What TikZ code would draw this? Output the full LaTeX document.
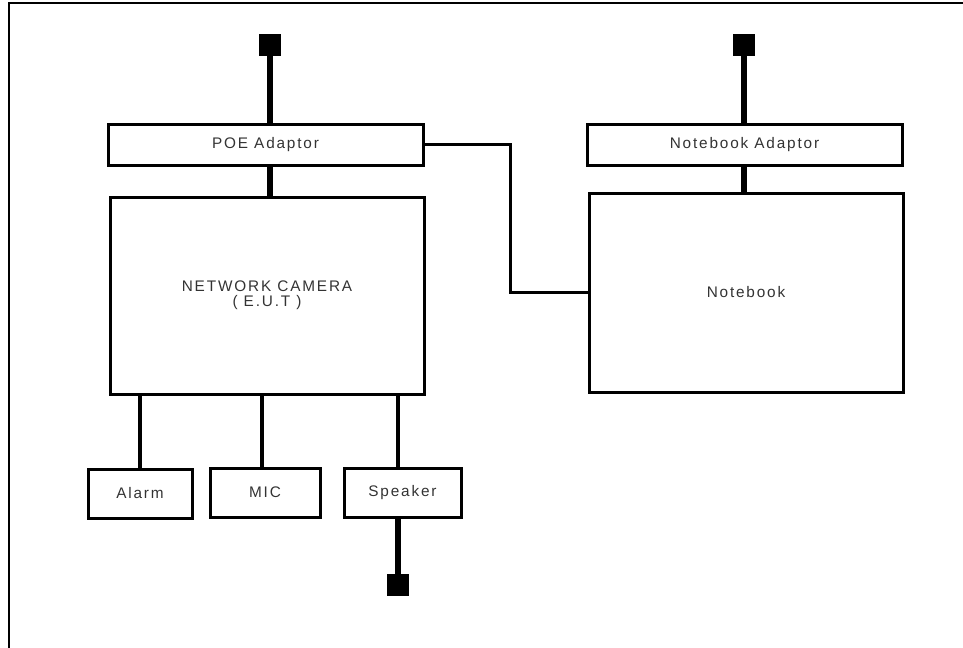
\documentclass[tikz,border=0pt]{standalone}
\usepackage{fontspec}
\setmainfont{Liberation Sans}[LetterSpace=12]
\definecolor{txt}{HTML}{333333}
\newcommand\lbl{\fontsize{11.5pt}{11.5pt}\selectfont}
\begin{document}
\begin{tikzpicture}[x=0.75pt,y=-0.75pt,
  box/.style={draw, line width=3*0.75pt, inner sep=0pt, font=\lbl, text=txt, align=center},
  plug/.style={fill=black, draw=none, minimum width=22*0.75pt, minimum height=22*0.75pt, inner sep=0pt},
  wire/.style={line width=3.2*0.75pt},
  power/.style={line width=6*0.75pt},
  frame/.style={line width=2.5*0.75pt}]
\useasboundingbox (0,0) rectangle (963,647);
% frame
\coordinate (fbl) at (9,650);
\coordinate (ftl) at (9,3);
\coordinate (ftr) at (966,3);
\draw[frame] (fbl) -- (ftl) -- (ftr);
% boxes
\node[box, minimum width=315*0.75pt, minimum height=41*0.75pt] (poe) at (265.5,144.5) {POE Adaptor};
\node[box, minimum width=315*0.75pt, minimum height=41*0.75pt] (nba) at (744.5,144.5) {Notebook Adaptor};
\node[box, minimum width=314*0.75pt, minimum height=197*0.75pt] (cam) at (267,295.5) {NETWORK CAMERA\\( E.U.T )};
\node[box, minimum width=314*0.75pt, minimum height=199*0.75pt] (nb) at (746,292.5) {Notebook};
\node[box, minimum width=104*0.75pt, minimum height=49*0.75pt] (alarm) at (140,493.5) {Alarm};
\node[box, minimum width=110*0.75pt, minimum height=49*0.75pt] (mic) at (265,492.5) {MIC};
\node[box, minimum width=117*0.75pt, minimum height=49*0.75pt] (spk) at (402.5,492.5) {Speaker};
% plugs
\node[plug] (plug1) at (270,45) {};
\node[plug] (plug2) at (744,45) {};
\node[plug] (plug3) at (398,585) {};
% connectors
\draw[power] (plug1.south) -- (plug1.south |- poe.north);
\draw[power] (poe.south -| plug1) -- (cam.north -| plug1);
\draw[power] (plug2.south) -- (plug2.south |- nba.north);
\draw[power] (nba.south -| plug2) -- (nb.north -| plug2);
\draw[wire] (poe.east) -- ++(86,0) |- (nb.west);
\draw[wire] (alarm.north) -- (alarm.north |- cam.south);
\draw[wire] ([xshift=-3*0.75pt]mic.north) -- ([xshift=-3*0.75pt]mic.north |- cam.south);
\draw[wire] (spk.north -| plug3) -- (cam.south -| plug3);
\draw[power] (spk.south -| plug3) -- (plug3.north);
\end{tikzpicture}
\end{document}
